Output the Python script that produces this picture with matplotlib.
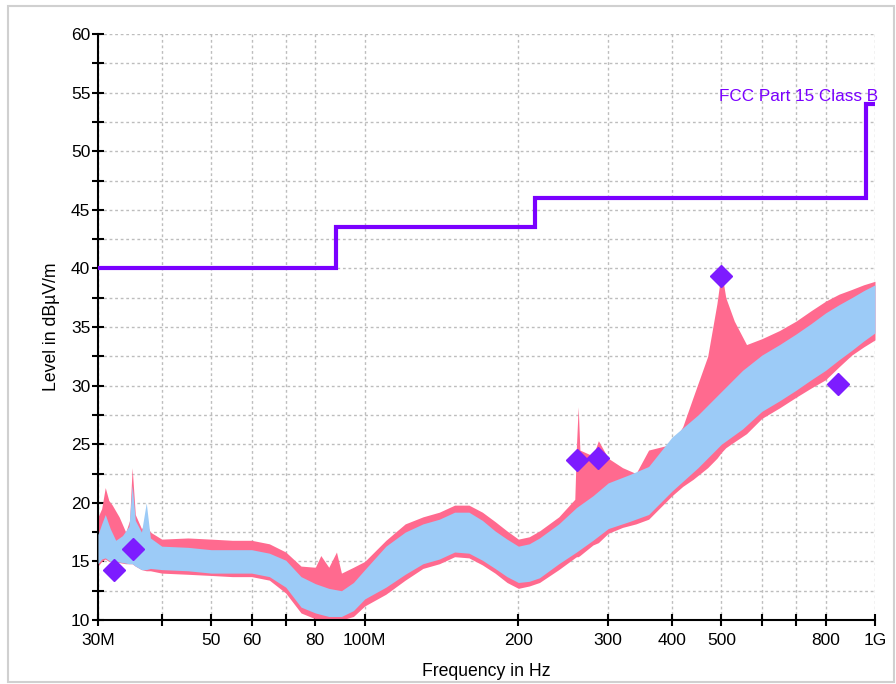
import matplotlib
matplotlib.use("Agg")
import numpy as np
from matplotlib import pyplot as plt
from matplotlib.patches import Rectangle
from matplotlib.ticker import FixedLocator, FixedFormatter, NullLocator

plt.rcParams['font.family'] = ['Liberation Sans', 'DejaVu Sans']

# limit line (FCC Part 15 Class B), MHz / dBuV/m
limit_f = [30, 88, 88, 216, 216, 960, 960, 1000]
limit_db = [40, 40, 43.5, 43.5, 46, 46, 54, 54]

# average trace envelope (light blue)
blue_f = [30, 30.5, 31, 31.7, 32.5, 33.5, 34.5, 35.0, 35.5, 36.5, 37.3, 38, 40, 45, 50, 55, 60, 65,
          70, 75, 80, 85, 90, 95, 100, 110, 120, 130, 140, 150, 160, 170, 180, 190, 200, 210,
          220, 240, 260, 280, 300, 330, 360, 400, 450, 500, 550, 600, 650, 700, 750, 800, 850, 900,
          950, 1000]
blue_lo = [14.8, 15.2, 15.3, 15.0, 15.0, 14.9, 14.8, 14.8, 14.6, 14.3, 14.3, 14.4, 14.3, 14.2, 14.0,
           14.0, 14.0, 13.7, 12.8, 11.1, 10.6, 10.3, 10.3, 10.8, 11.8, 12.8, 13.9, 14.8, 15.2,
           15.8, 15.7, 15.1, 14.4, 13.7, 13.2, 13.3, 13.6, 14.8, 15.8, 16.8, 17.8, 18.4, 19.0, 21.0,
           23.0, 25.0, 26.3, 27.8, 28.7, 29.6, 30.5, 31.3, 32.2, 33.0, 33.8, 34.5]
blue_hi = [17.3, 18.2, 19.0, 17.8, 16.8, 17.2, 18.0, 21.5, 18.5, 17.5, 20.0, 17.0, 16.3, 16.2, 16.0,
           16.0, 16.0, 15.7, 15.1, 13.7, 13.1, 12.7, 12.5, 13.2, 14.3, 16.3, 17.5, 18.2, 18.6,
           19.2, 19.2, 18.5, 17.6, 16.9, 16.3, 16.5, 17.0, 18.2, 19.6, 20.6, 21.7, 22.4, 23.1, 25.6,
           27.5, 29.5, 31.3, 32.6, 33.5, 34.4, 35.3, 36.2, 36.9, 37.5, 38.1, 38.6]

# peak trace envelope (pink)
pink_f = [30, 30.5, 31, 31.5, 32, 33, 34, 34.6, 35, 35.5, 36.5, 37.3, 38, 40, 45, 50, 55, 60, 65, 70,
          75, 80, 82, 85, 88, 90, 95, 100, 110, 120, 130, 140, 150, 160, 170, 180, 190, 200, 210, 220,
          240, 258, 260, 262, 264, 280, 287, 300, 320, 340, 360, 400, 420, 440, 470, 490, 500, 510,
          530, 560, 600, 650, 700, 750, 800, 850, 900, 950, 1000]
pink_lo = [14.6, 15.0, 15.2, 15.0, 15.0, 14.9, 14.8, 14.8, 14.8, 14.6, 14.3, 14.2, 14.2, 14.0, 13.9,
           13.8, 13.7, 13.7, 13.4, 12.3, 10.6, 10.1, 10.0, 10.0, 10.0, 10.0, 10.3, 11.2, 12.2, 13.4,
           14.4, 14.8, 15.4, 15.3, 14.7, 14.0, 13.2, 12.7, 12.9, 13.2, 14.3, 15.3, 15.4, 15.4, 15.5,
           16.4, 16.6, 17.4, 17.9, 18.2, 18.6, 20.6, 21.4, 22.0, 23.0, 23.8, 24.3, 24.7, 25.2, 25.9,
           27.2, 28.1, 29.0, 29.8, 30.5, 31.6, 32.6, 33.3, 33.9]
pink_hi = [18.8, 19.5, 21.3, 20.2, 19.8, 18.8, 17.5, 18.5, 23.0, 19.0, 17.8, 18.2, 17.5, 16.9, 17.0,
           16.9, 16.8, 16.8, 16.5, 15.8, 14.6, 14.5, 15.5, 14.5, 15.8, 14.0, 14.5, 15.0, 16.8, 18.2,
           18.8, 19.2, 19.8, 19.8, 19.2, 18.4, 17.6, 16.9, 17.1, 17.6, 18.8, 20.3, 25.0, 28.2, 24.5,
           24.0, 25.3, 23.8, 23.0, 22.5, 24.5, 25.0, 26.5, 29.0, 32.5, 37.0, 39.8, 37.5, 35.5, 33.5,
           34.0, 34.7, 35.5, 36.4, 37.2, 37.8, 38.2, 38.6, 38.9]

# final measurement points
mark_f = [32.2, 35.1, 260.8, 286.9, 499.8, 847]
mark_db = [14.3, 16.1, 23.65, 23.8, 39.35, 30.1]

xticks = [30, 40, 50, 60, 70, 80, 100, 200, 300, 400, 500, 600, 700, 800, 1000]
xlabels = ['30M', '', '50', '60', '', '80', '100M', '200', '300', '400', '500', '', '', '800', '1G']

fig = plt.figure(figsize=(8.96, 6.84), dpi=100)
ax = fig.add_axes([98/896, 1-620/684, 777/896, 586/684])

ax.fill_between(pink_f, pink_lo, pink_hi, color='#ff6a8f', lw=0, zorder=2)
ax.fill_between(blue_f, blue_lo, blue_hi, color='#9ccbf7', lw=0, zorder=3)
ax.plot(limit_f, limit_db, color='#7a00ff', lw=3, solid_joinstyle='miter', zorder=4)
ax.plot(mark_f, mark_db, 'D', color='#7d1cff', ms=11, mec='#7d1cff', ls='none', zorder=5)
ax.text(1000*1.012, 54.7, 'FCC Part 15 Class B', color='#7a00ff', fontsize=12.3,
        ha='right', va='center', clip_on=False, zorder=6)

ax.set_xscale('log')
ax.set_xlim(30, 1000)
ax.set_ylim(10, 60)
ax.xaxis.set_major_locator(FixedLocator(xticks))
ax.xaxis.set_major_formatter(FixedFormatter(xlabels))
ax.xaxis.set_minor_locator(NullLocator())
ax.set_yticks(np.arange(10, 61, 5))
ax.set_yticks(np.arange(12.5, 60, 5), minor=True)

ax.grid(True, which='both', color='#bdbdbd', ls=(0, (2, 2)), lw=1)
ax.set_axisbelow(True)
for s in ['top', 'right']:
    ax.spines[s].set_visible(False)
for s in ['left', 'bottom']:
    ax.spines[s].set_linewidth(1.5)
ax.tick_params(which='both', direction='inout', length=9, width=1.5, labelsize=12.5)
ax.tick_params(axis='y', pad=1)
ax.tick_params(axis='x', pad=5)

fig.text(52/896, 1-327/684, 'Level in dBµV/m', rotation=90, ha='center', va='center', fontsize=12.7)
fig.text(486/896, 1-672/684, 'Frequency in Hz', ha='center', va='center', fontsize=12.7)

fig.patches.append(Rectangle((8/896, 2/684), 886/896, 676/684, transform=fig.transFigure,
                             fill=False, ec='#d0d0d0', lw=1.5))

fig.savefig('out.png', dpi=100)
